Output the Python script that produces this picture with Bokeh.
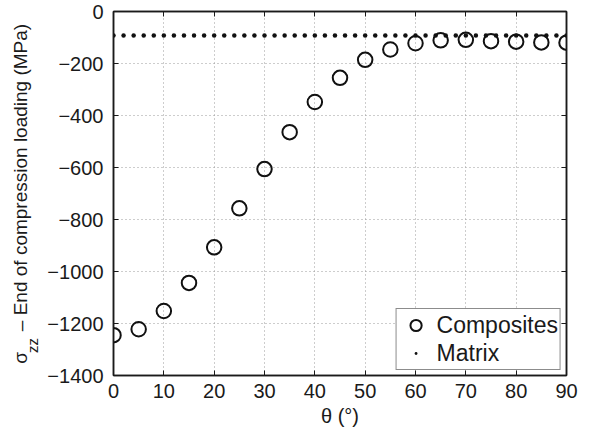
import math
from bokeh.plotting import figure
from bokeh.layouts import row
from bokeh.models import (Range1d, FixedTicker, LinearAxis, Legend, LegendItem,
                          CustomJSTickFormatter)
from bokeh.core.properties import value
from bokeh.embed import file_html
from bokeh.resources import INLINE

# ---- data ----
theta = [0, 5, 10, 15, 20, 25, 30, 35, 40, 45, 50, 55, 60, 65, 70, 75, 80, 85, 90]
composites = [-1245, -1222, -1152, -1044, -907, -757, -606, -464, -348, -255,
              -186, -146, -122, -111, -109, -114, -116, -119, -120]
matrix_theta = [0, 2, 4, 6, 8, 10, 12, 14, 16, 18, 20, 22, 24, 26, 28, 30, 32, 34,
                36, 38, 40, 42, 44, 46, 48, 50, 52, 54, 56, 58, 60, 62, 64, 66, 68,
                70, 72, 74, 76, 78, 80, 82, 84, 86, 88, 90]
matrix = [-92, -92, -92, -92, -92, -92, -92, -92, -92, -92, -92, -92, -92, -92, -92,
          -92, -92, -92, -92, -92, -92, -92, -92, -92, -92, -92, -92, -92, -92, -92,
          -92, -92, -92, -92, -92, -92, -92, -92, -92, -92, -92, -92, -92, -92, -92, -92]
x_ticks = [0, 10, 20, 30, 40, 50, 60, 70, 80, 90]
y_ticks = [-1400, -1200, -1000, -800, -600, -400, -200, 0]

FONT = "Liberation Sans"
INK = "#1a1a1a"
H = 433
TOP, BOTTOM = 11, 58   # frame borders shared by both panels (row aligns frames)

# ---- narrow panel holding the rotated y-axis title (with subscript) ----
# its frame is aligned with the main frame, so y here = H - pixel row
lab = figure(width=40, height=H, x_range=Range1d(0, 40),
             y_range=Range1d(BOTTOM, H - TOP),
             x_axis_type=None, y_axis_type=None, output_backend="svg",
             toolbar_location=None, min_border_left=0, min_border_right=0,
             min_border_top=TOP, min_border_bottom=BOTTOM)
lab.outline_line_color = None
lab.background_fill_color = "white"
lab.border_fill_color = "white"
lab.text(x=[20.2], y=[H - 357.5], text=["σ"], angle=math.pi / 2, text_align="center",
         text_baseline="middle", text_font=value(FONT), text_font_size="19px",
         text_color=INK)
lab.text(x=[31.8], y=[H - 345], text=["zz"], angle=math.pi / 2, text_align="center",
         text_baseline="middle", text_font=value(FONT), text_font_size="15px",
         text_color=INK)
lab.text(x=[20.2], y=[H - 177], text=["– End of compression loading (MPa)"],
         angle=math.pi / 2, text_align="center", text_baseline="middle",
         text_font=value(FONT), text_font_size="19px", text_color=INK)

# ---- main plot ----
p = figure(width=546, height=H, x_range=Range1d(0, 90), y_range=Range1d(-1400, 0),
           output_backend="svg", toolbar_location=None,
           min_border_left=73, min_border_right=20, min_border_top=TOP,
           min_border_bottom=BOTTOM)
p.background_fill_color = "white"
p.border_fill_color = "white"
p.outline_line_color = INK
p.outline_line_width = 1.5

fmt = CustomJSTickFormatter(code="return String(tick).replace('-', '\\u2212');")

def style_axis(ax, ticks, show_labels=True, standoff=8):
    ax.ticker = FixedTicker(ticks=ticks)
    ax.major_tick_in = 5
    ax.major_tick_out = 0
    ax.minor_tick_in = 0
    ax.minor_tick_out = 0
    ax.axis_line_color = INK
    ax.axis_line_width = 1.5
    ax.major_tick_line_color = INK
    ax.major_tick_line_width = 1
    ax.major_label_text_font = FONT
    ax.major_label_text_color = INK
    if show_labels:
        ax.major_label_text_font_size = "20px"
        ax.major_label_standoff = standoff
        ax.formatter = fmt
    else:
        ax.major_label_text_font_size = "0px"
        ax.major_label_standoff = 0
        ax.major_label_text_color = None

style_axis(p.xaxis[0], x_ticks, True, 8)
style_axis(p.yaxis[0], y_ticks, True, 10)
p.xaxis.axis_label = "θ (°)"
p.xaxis.axis_label_text_font = FONT
p.xaxis.axis_label_text_font_size = "20px"
p.xaxis.axis_label_text_font_style = "normal"
p.xaxis.axis_label_text_color = INK
p.xaxis.axis_label_standoff = 4

top_ax = LinearAxis()
style_axis(top_ax, x_ticks, False)
p.add_layout(top_ax, "above")
right_ax = LinearAxis()
style_axis(right_ax, y_ticks, False)
p.add_layout(right_ax, "right")

p.xgrid.ticker = FixedTicker(ticks=x_ticks)
p.ygrid.ticker = FixedTicker(ticks=y_ticks)
p.grid.grid_line_color = "#9a9a9a"
p.grid.grid_line_dash = "1 3"
p.grid.grid_line_width = 1

r1 = p.scatter(theta, composites, marker="circle", size=14.5, fill_color=None,
               line_color="#111111", line_width=2)
r2 = p.scatter(matrix_theta, matrix, marker="dot", size=18, line_color="#111111",
               fill_color="#111111")

legend = Legend(items=[LegendItem(label="Composites", renderers=[r1]),
                       LegendItem(label="Matrix", renderers=[r2])],
                location="bottom_right")
legend.margin = 5
legend.padding = 2
legend.spacing = 0
legend.glyph_width = 34
legend.glyph_height = 28
legend.label_height = 20
legend.label_standoff = 4
legend.label_text_font = FONT
legend.label_text_font_size = "23px"
legend.label_text_color = INK
legend.border_line_color = INK
legend.border_line_width = 1.5
legend.background_fill_color = "white"
legend.background_fill_alpha = 1
p.add_layout(legend)

open("out.html", "w").write(file_html(row(lab, p), INLINE))
